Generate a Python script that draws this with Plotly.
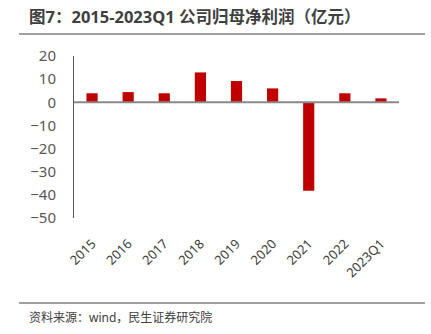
import plotly.graph_objects as go

categories = ["2015", "2016", "2017", "2018", "2019", "2020", "2021", "2022", "2023Q1"]
profit = [3.9, 4.4, 3.9, 12.9, 9.2, 6.0, -38.2, 3.9, 1.7]
y_ticks = [20, 10, 0, -10, -20, -30, -40, -50]
title_text = "图7：2015-2023Q1 公司归母净利润（亿元）"
source_text = "资料来源：wind，民生证券研究院"

W, H = 431, 334
L, R, T, B = 74, 32, 56, 116
pw, ph = W - L - R, H - T - B

def px(x):
    return (x - L) / pw

def py(y):
    return (H - B - y) / ph

fig = go.Figure()
fig.add_trace(go.Bar(
    x=categories, y=profit,
    marker=dict(color="#C00000", line=dict(width=0)),
    width=0.31,
))

font = "Noto Sans, Noto Sans CJK SC, sans-serif"
fig.update_layout(
    width=W, height=H,
    margin=dict(l=L, r=R, t=T, b=B, autoexpand=False),
    paper_bgcolor="white", plot_bgcolor="white",
    showlegend=False,
    font=dict(family=font, color="#595959"),
    xaxis=dict(
        type="category", tickangle=-45, showgrid=False, zeroline=False,
        showline=False, ticks="outside", ticklen=12, tickcolor="rgba(0,0,0,0)",
        tickfont=dict(size=13, color="#404040"), automargin=False,
    ),
    yaxis=dict(
        range=[-50, 20], tickvals=y_ticks, showgrid=False, zeroline=False,
        showline=True, linecolor="#595959", linewidth=1,
        ticks="outside", ticklen=14, tickcolor="rgba(0,0,0,0)",
        tickfont=dict(size=15, color="#595959"), automargin=False,
    ),
    shapes=[
        dict(type="line", xref="paper", yref="y", x0=0, x1=1, y0=0, y1=0,
             line=dict(color="#898989", width=2)),
        dict(type="line", xref="paper", yref="paper", x0=px(19), x1=px(425),
             y0=py(34), y1=py(34), line=dict(color="#7F7F7F", width=1.5)),
        dict(type="line", xref="paper", yref="paper", x0=px(19), x1=px(425),
             y0=py(303), y1=py(303), line=dict(color="#7F7F7F", width=1.5)),
    ],
    annotations=[
        dict(text="<b>" + title_text + "</b>", xref="paper", yref="paper",
             x=px(27), y=py(16), xanchor="left", yanchor="middle",
             showarrow=False, font=dict(size=16.5, color="#404040", family=font)),
        dict(text=source_text, xref="paper", yref="paper",
             x=px(27), y=py(317), xanchor="left", yanchor="middle",
             showarrow=False, font=dict(size=12, color="#404040", family=font)),
    ],
)

fig.write_html("out.html")
